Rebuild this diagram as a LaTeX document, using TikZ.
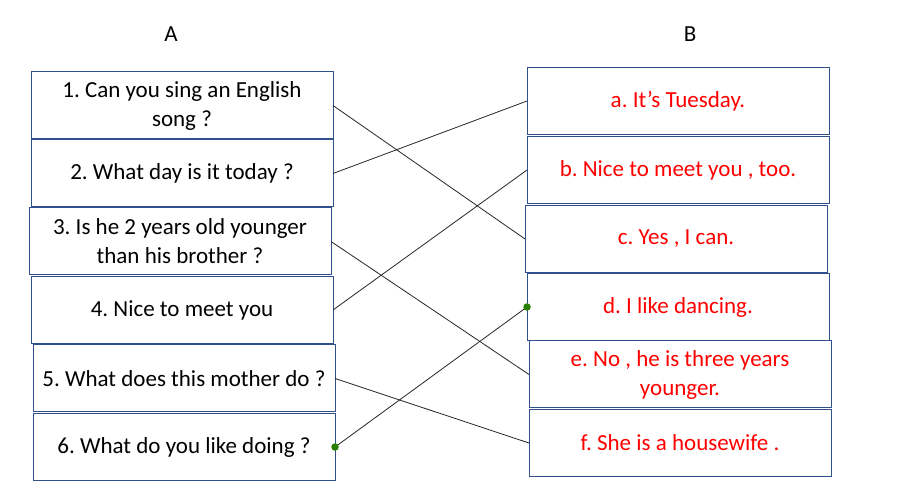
\documentclass[tikz,border=0pt]{standalone}
\usepackage{fontspec}
\setmainfont{Carlito}
\frenchspacing
\definecolor{boxblue}{RGB}{47,82,143}
\definecolor{ansred}{RGB}{255,0,0}
\definecolor{dotgreen}{RGB}{40,128,0}
\tikzset{
  qbox/.style={draw=boxblue, line width=1pt, minimum width=302pt, minimum height=67pt,
    inner sep=0pt, outer sep=0pt, align=center, font=\fontsize{23}{29}\selectfont},
  abox/.style={qbox, text=ansred},
  match/.style={draw=black!85, line width=0.8pt},
  enddot/.style={circle, fill=dotgreen, inner sep=0pt, minimum size=7.5pt}
}
\begin{document}
\begin{tikzpicture}[x=1pt, y=-1pt]
        \useasboundingbox (0, 0) rectangle (897, 502);

        \node[font=\fontsize{23}{28}\selectfont] (hA) at (171, 34) {A};
        \node[font=\fontsize{23}{28}\selectfont] (hB) at (690, 34) {B};

        \node[qbox] (q1) at (182, 105.5) {1. Can you sing an English\\song ?};
        \node[qbox] (q2) at (182, 173.5) {2. What day is it today ?};
        \node[qbox] (q3) at (180, 241.5) {3. Is he 2 years old younger\\than his brother ?};
        \node[qbox] (q4) at (182, 310) {4. Nice to meet you};
        \node[qbox] (q5) at (184, 378.5) {5. What does this mother do ?};
        \node[qbox] (q6) at (184, 447) {6. What do you like doing ?};

        \node[abox] (a) at (678, 101) {a. It’s Tuesday.};
        \node[abox] (b) at (678, 170) {b. Nice to meet you , too.};
        \node[abox] (c) at (676, 239) {c. Yes , I can.};
        \node[abox] (d) at (678, 307) {d. I like dancing.};
        \node[abox] (e) at (680, 374.5) {e. No , he is three years\\younger.};
        \node[abox] (f) at (680, 443) {f. She is a housewife .};

        \draw[match] (q1.east) -- (c.west);
        \draw[match] (q2.east) -- (a.west);
        \draw[match] (q3.east) -- (e.west);
        \draw[match] (q4.east) -- (b.west);
        \draw[match] (q5.east) -- (f.west);
        \draw[match] (q6.east) -- (d.west);

        \node[enddot] (s6) at (q6.east) {};
        \node[enddot] (sd) at (d.west) {};
    \end{tikzpicture}
\end{document}
